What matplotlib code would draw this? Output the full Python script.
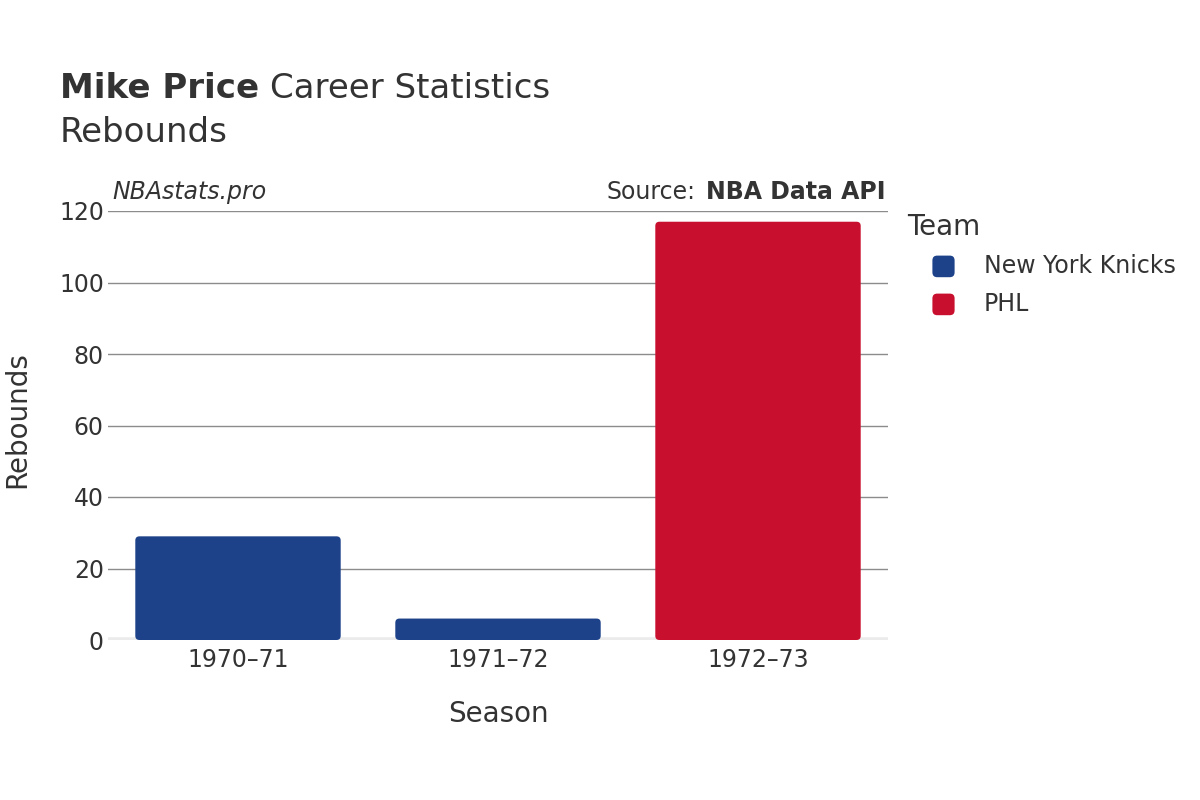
import numpy as np
import matplotlib.pyplot as plt
from matplotlib.patches import FancyBboxPatch

# Datos
seasons = ['1970–71', '1971–72', '1972–73']
rebounds = [29, 6, 117]
teams = ['New York Knicks', 'New York Knicks', 'PHL']
legend_teams = ['New York Knicks', 'PHL']
team_colors = {'New York Knicks': '#1d428a', 'PHL': '#c8102e'}

plt.rcParams['font.family'] = ['DejaVu Sans']
txt = '#333333'

fig = plt.figure(figsize=(12, 8), dpi=100)
ax = fig.add_axes([0.09, 0.2, 0.65, 0.53625])

x = np.arange(len(seasons))
bars = ax.bar(x, rebounds, width=0.79, color=[team_colors[t] for t in teams], zorder=3)

# esquinas redondeadas (1 unidad x = 260 px, 1 unidad y = 3.575 px)
for b in bars:
    b.set_visible(False)
    p = FancyBboxPatch((b.get_x(), b.get_y()), b.get_width(), b.get_height(),
                       boxstyle='round,pad=0,rounding_size=0.016',
                       mutation_aspect=260 / 3.575,
                       facecolor=b.get_facecolor(), edgecolor='none', zorder=3)
    ax.add_patch(p)

ax.set_xlim(-0.5, 2.5)
ax.set_ylim(0, 120)
ax.set_yticks([0, 20, 40, 60, 80, 100, 120])
ax.set_xticks(x)
ax.set_xticklabels(seasons)
ax.tick_params(axis='both', length=0, labelsize=17, colors=txt)
ax.tick_params(axis='y', pad=3)
ax.tick_params(axis='x', pad=6)
ax.grid(axis='y', color='#8c8c8c', linewidth=1, zorder=0)
ax.axhline(0, color='#ebebeb', linewidth=4, zorder=2)
for s in ax.spines.values():
    s.set_visible(False)

ax.set_xlabel('Season', fontsize=20, color=txt, labelpad=20)
ax.set_ylabel('Rebounds', fontsize=20, color=txt)
ax.yaxis.set_label_coords(-0.098, 0.515)

fig.canvas.draw()
r = fig.canvas.get_renderer()

# Títulos
t1 = fig.text(0.05, 0.889, 'Mike Price', fontsize=24.5, fontweight='bold', color=txt, va='center')
bb = t1.get_window_extent(r)
fig.text(bb.x1 / 1200 + 0.009, 0.889, 'Career Statistics', fontsize=24.5, color=txt, va='center')
fig.text(0.05, 0.835, 'Rebounds', fontsize=24.5, color=txt, va='center')

fig.text(0.094, 0.76, 'NBAstats.pro', fontsize=17, style='italic', color=txt, va='center')
t2 = fig.text(0.7375, 0.76, 'NBA Data API', fontsize=17, fontweight='bold', color=txt, va='center', ha='right')
bb = t2.get_window_extent(r)
fig.text(bb.x0 / 1200 - 0.008, 0.76, 'Source:', fontsize=17, color=txt, va='center', ha='right')

# Leyenda
fig.text(0.756, 0.716, 'Team', fontsize=20, color=txt, va='center')
for i, t in enumerate(legend_teams):
    yc = 0.667 - i * 0.0475
    fig.patches.append(FancyBboxPatch((0.777, yc - 0.0135), 0.0185, 0.027,
                                      boxstyle='round,pad=0,rounding_size=0.004',
                                      mutation_aspect=1.5,
                                      transform=fig.transFigure, figure=fig,
                                      facecolor=team_colors[t], edgecolor='none'))
    fig.text(0.82, yc, t, fontsize=17, color=txt, va='center')

fig.savefig('out.png', dpi=100)
